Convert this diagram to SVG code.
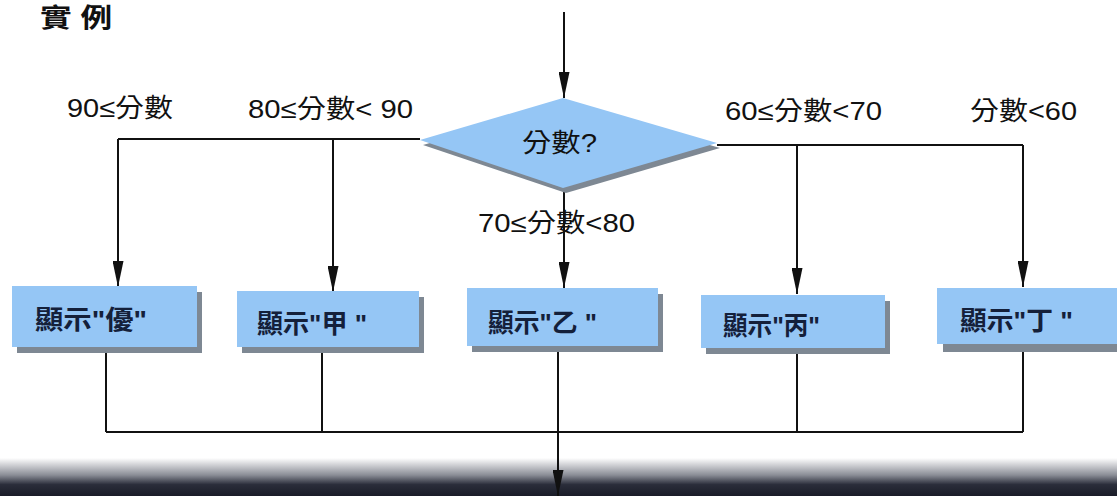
<svg xmlns="http://www.w3.org/2000/svg" width="1117" height="496" viewBox="0 0 1117 496">
<style>
.lbl{font-family:"Liberation Sans","Noto Sans CJK TC",sans-serif;font-size:26px;fill:#111;}
.btxt{font-family:"Liberation Sans","Noto Sans CJK TC",sans-serif;font-size:26px;fill:#14203a;font-weight:bold;}
.box{fill:#95c6f5;}
.shadow{fill:#7e8893;}
.ln{stroke:#111;stroke-width:2;fill:none;}
.arr{marker-end:url(#ah);}
</style>
<defs>
<marker id="ah" viewBox="0 0 26 11" refX="26" refY="5.5" markerWidth="26" markerHeight="11" orient="auto" markerUnits="userSpaceOnUse">
<path d="M0,0 L26,5.5 L0,11 z" fill="#111"/>
</marker>
<linearGradient id="band" x1="0" y1="0" x2="0" y2="1">
<stop offset="0" stop-color="#ffffff"/>
<stop offset="0.45" stop-color="#8a8d96"/>
<stop offset="0.7" stop-color="#2a2d3a"/>
<stop offset="1" stop-color="#1a1c28"/>
</linearGradient>
</defs>
<rect x="0" y="0" width="1117" height="496" fill="#ffffff"/>
<rect x="0" y="458" width="1117" height="38" fill="url(#band)"/>
<text class="lbl" x="40" y="27" font-size="24" font-weight="bold" textLength="72" lengthAdjust="spacingAndGlyphs">實 例</text>
<g id="connectors">
<line class="ln arr" x1="564" y1="12" x2="564" y2="98"/>
<polyline class="ln" points="420,139 118,139"/>
<line class="ln arr" x1="118" y1="139" x2="118" y2="287"/>
<line class="ln arr" x1="333" y1="139" x2="333" y2="292"/>
<polyline class="ln" points="717,145 1023,145"/>
<line class="ln arr" x1="797" y1="145" x2="797" y2="294"/>
<line class="ln arr" x1="1023" y1="145" x2="1023" y2="287"/>
<line class="ln arr" x1="564" y1="188" x2="564" y2="288"/>
<line class="ln" x1="106" y1="350" x2="106" y2="432"/>
<line class="ln" x1="322" y1="352" x2="322" y2="432"/>
<line class="ln" x1="797" y1="352" x2="797" y2="432"/>
<line class="ln" x1="1023" y1="350" x2="1023" y2="432"/>
<line class="ln" x1="106" y1="432" x2="1023" y2="432"/>
<line class="ln arr" x1="558" y1="350" x2="558" y2="496"/>
</g>
<g id="labels">
<text class="lbl" x="67" y="117" textLength="106" lengthAdjust="spacingAndGlyphs">90≤分數</text>
<text class="lbl" x="248" y="118" textLength="165" lengthAdjust="spacingAndGlyphs">80≤分數&lt; 90</text>
<text class="lbl" x="725" y="120" textLength="157" lengthAdjust="spacingAndGlyphs">60≤分數&lt;70</text>
<text class="lbl" x="970" y="120" textLength="107" lengthAdjust="spacingAndGlyphs">分數&lt;60</text>
<text class="lbl" x="478" y="232" textLength="157" lengthAdjust="spacingAndGlyphs">70≤分數&lt;80</text>
</g>
<g id="decision">
<polygon class="shadow" points="423,145 566,103 720,148 566,193"/>
<polygon class="box" points="420,140 563,98 717,143 563,188"/>
<text class="lbl" x="522" y="152" fill="#1a2a4a" textLength="75" lengthAdjust="spacingAndGlyphs">分數?</text>
</g>
<g id="box1">
<rect class="shadow" x="17" y="292" width="185" height="61"/>
<rect class="box" x="12" y="286" width="185" height="61"/>
<text class="btxt" x="35" y="329" textLength="112" lengthAdjust="spacingAndGlyphs">顯示"優"</text>
</g>
<g id="box2">
<rect class="shadow" x="242" y="297" width="182" height="56"/>
<rect class="box" x="237" y="291" width="182" height="56"/>
<text class="btxt" x="257" y="333" textLength="110" lengthAdjust="spacingAndGlyphs">顯示"甲 "</text>
</g>
<g id="box3">
<rect class="shadow" x="472" y="294" width="191" height="58"/>
<rect class="box" x="467" y="288" width="191" height="58"/>
<text class="btxt" x="488" y="332" textLength="109" lengthAdjust="spacingAndGlyphs">顯示"乙 "</text>
</g>
<g id="box4">
<rect class="shadow" x="706" y="301" width="184" height="53"/>
<rect class="box" x="701" y="295" width="184" height="53"/>
<text class="btxt" x="723" y="335" textLength="97" lengthAdjust="spacingAndGlyphs">顯示"丙"</text>
</g>
<g id="box5">
<rect class="shadow" x="943" y="294" width="185" height="58"/>
<rect class="box" x="937" y="288" width="185" height="56"/>
<text class="btxt" x="960" y="330" textLength="113" lengthAdjust="spacingAndGlyphs">顯示"丁 "</text>
</g>
</svg>
